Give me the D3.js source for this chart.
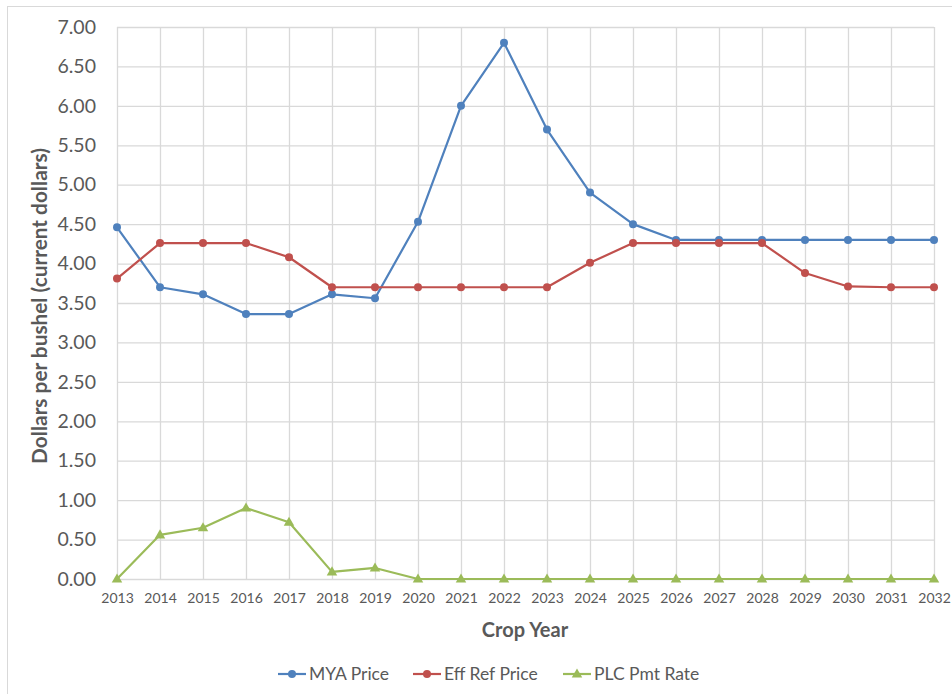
<!DOCTYPE html>
<html>
<head>
<meta charset="utf-8">
<script src="https://cdn.jsdelivr.net/npm/d3@7/dist/d3.min.js"></script>
<style>
  html, body { margin: 0; padding: 0; background: #fff; }
  svg { display: block; }
</style>
</head>
<body>
<svg id="chart" width="952" height="694"></svg>
<script>
// Crop years and per-bushel series
const years = [2013, 2014, 2015, 2016, 2017, 2018, 2019, 2020, 2021, 2022,
               2023, 2024, 2025, 2026, 2027, 2028, 2029, 2030, 2031, 2032];
const myaPrice = [4.46, 3.70, 3.61, 3.36, 3.36, 3.61, 3.56, 4.53, 6.00, 6.80,
                  5.70, 4.90, 4.50, 4.30, 4.30, 4.30, 4.30, 4.30, 4.30, 4.30];
const effRefPrice = [3.81, 4.26, 4.26, 4.26, 4.08, 3.70, 3.70, 3.70, 3.70, 3.70,
                     3.70, 4.01, 4.26, 4.26, 4.26, 4.26, 3.88, 3.71, 3.70, 3.70];
const plcPmtRate = [0.00, 0.56, 0.65, 0.90, 0.72, 0.09, 0.14, 0.00, 0.00, 0.00,
                    0.00, 0.00, 0.00, 0.00, 0.00, 0.00, 0.00, 0.00, 0.00, 0.00];
const yTicks = [0, 0.5, 1, 1.5, 2, 2.5, 3, 3.5, 4, 4.5, 5, 5.5, 6, 6.5, 7];
const seriesNames = ["MYA Price", "Eff Ref Price", "PLC Pmt Rate"];
const seriesColors = ["#4f81bd", "#c0504d", "#9bbb59"];
const seriesShapes = ["circle", "circle", "triangle"];

(function drawChart() {
  const svg = d3.select("#chart");
  const font = "Lato, 'Open Sans', sans-serif";
  const plotLeft = 117, plotRight = 934, plotTop = 27, plotBottom = 579;

  // chart frame
  svg.append("rect")
    .attr("x", 7.5).attr("y", 6.5).attr("width", 960).attr("height", 700)
    .attr("fill", "none").attr("stroke", "#d9d9d9").attr("stroke-width", 1);

  const x = d3.scalePoint().domain(years).range([plotLeft, plotRight]);
  const y = d3.scaleLinear().domain([0, 7]).range([plotBottom, plotTop]);

  // horizontal gridlines + y labels
  const yAxis = d3.axisLeft(y).tickValues(yTicks).tickFormat(d3.format(".2f"))
    .tickSize(-(plotRight - plotLeft)).tickPadding(12);
  const gy = svg.append("g").attr("transform", `translate(${plotLeft},0)`).call(yAxis);
  gy.select(".domain").remove();
  gy.selectAll("line").attr("stroke", "#d9d9d9").attr("stroke-width", 1.3);
  gy.selectAll("text").attr("fill", "#595959").attr("font-family", font)
    .attr("font-size", 19.5).attr("x", -21);

  // vertical gridlines + x labels
  const xAxis = d3.axisBottom(x).tickSize(-(plotBottom - plotTop)).tickPadding(14)
    .tickFormat(d3.format("d"));
  const gx = svg.append("g").attr("transform", `translate(0,${plotBottom})`).call(xAxis);
  gx.select(".domain").remove();
  gx.selectAll("line").attr("stroke", "#d9d9d9").attr("stroke-width", 1.3);
  gx.selectAll("text").attr("fill", "#595959").attr("font-family", font)
    .attr("font-size", 14).attr("y", 19).attr("dy", "0.35em");

  // axis titles
  svg.append("text")
    .attr("transform", `translate(40,306) rotate(-90)`)
    .attr("text-anchor", "middle").attr("dy", "0.35em")
    .attr("font-family", font).attr("font-weight", "bold").attr("font-size", 20.8)
    .attr("fill", "#595959")
    .text("Dollars per bushel (current dollars)");

  svg.append("text")
    .attr("x", 525).attr("y", 630).attr("dy", "0.35em")
    .attr("text-anchor", "middle")
    .attr("font-family", font).attr("font-weight", "bold").attr("font-size", 20)
    .attr("fill", "#595959")
    .text("Crop Year");

  const allSeries = [myaPrice, effRefPrice, plcPmtRate];
  const line = d3.line().x((d, i) => x(years[i])).y(d => y(d));
  const tri = d3.symbol().type(d3.symbolTriangle).size(48);

  function drawMarker(g, shape, color, cx, cy) {
    if (shape === "circle") {
      g.append("circle").attr("cx", cx).attr("cy", cy).attr("r", 4)
        .attr("fill", color);
    } else {
      g.append("path").attr("d", tri)
        .attr("transform", `translate(${cx},${cy + 0.5})`)
        .attr("fill", color);
    }
  }

  allSeries.forEach((vals, s) => {
    const g = svg.append("g");
    g.append("path").datum(vals).attr("d", line)
      .attr("fill", "none").attr("stroke", seriesColors[s])
      .attr("stroke-width", 2.2).attr("stroke-linejoin", "round");
    vals.forEach((v, i) => drawMarker(g, seriesShapes[s], seriesColors[s], x(years[i]), y(v)));
  });

  // legend
  const legendY = 674;
  const legendX = [278, 413, 563];
  seriesNames.forEach((name, s) => {
    const g = svg.append("g").attr("transform", `translate(${legendX[s]},${legendY})`);
    g.append("line").attr("x1", 0).attr("x2", 28).attr("y1", 0).attr("y2", 0)
      .attr("stroke", seriesColors[s]).attr("stroke-width", 2.2);
    drawMarker(g, seriesShapes[s], seriesColors[s], 14, 0);
    g.append("text").attr("x", 31).attr("y", 0).attr("dy", "0.35em")
      .attr("font-family", font).attr("font-size", 17.5).attr("fill", "#595959")
      .text(name);
  });
})();
</script>
</body>
</html>
